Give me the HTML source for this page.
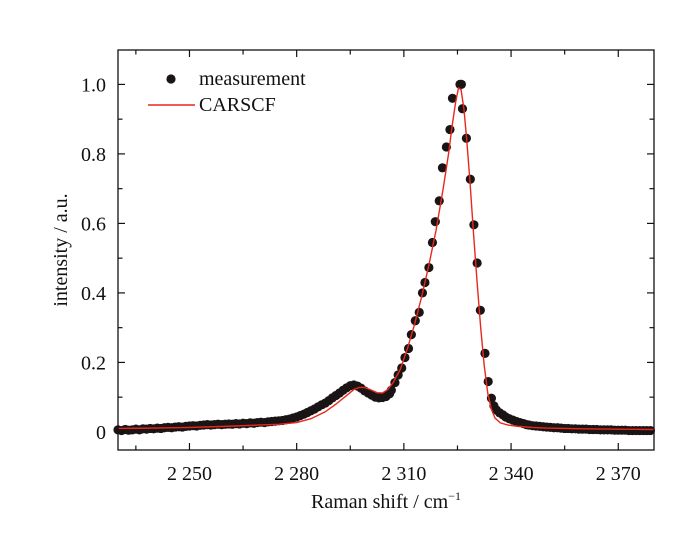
<!DOCTYPE html>
<html><head><meta charset="utf-8"><style>
body{margin:0;background:#fff;}
svg text{font-family:"Liberation Serif",serif;fill:#111;}
</style></head><body>
<svg id="chart" width="700" height="539">
<g id="marks"></g><g id="axes"></g>
</svg>
<script>
const measX=[2230,2231,2232,2233,2234,2235,2236,2237,2238,2239,2240,2241,2242,2243,2244,2245,2246,2247,2248,2249,2250,2251,2252,2253,2254,2255,2256,2257,2258,2259,2260,2261,2262,2263,2264,2265,2266,2267,2268,2269,2270,2271,2272,2273,2274,2275,2276,2277,2278,2279,2280,2281,2282,2283,2284,2285,2286,2287,2288,2289,2290,2291,2292,2293,2294,2295,2296,2297,2298,2299,2300,2301,2302,2303,2304,2305,2306,2306.5,2307.5,2308.4,2309.4,2310.3,2311.3,2312.1,2313.2,2314.3,2315.2,2315.9,2317,2318,2318.8,2319.9,2320.8,2321.9,2322.9,2323.6,2325.7,2326.1,2326.4,2327.5,2328.6,2329.6,2330.5,2331.4,2332.7,2333.6,2334.5,2335.2,2335.9,2336.8,2337.7,2338.5,2339.5,2340.5,2341.5,2342.5,2343.5,2344.3,2345,2346,2347,2348,2349,2350,2351,2352,2353,2354,2355,2356,2357,2358,2359,2360,2361,2362,2363,2364,2365,2366,2367,2368,2369,2370,2371,2372,2373,2374,2375,2376,2377,2378,2379,2380];
const measY=[0.006,0.004,0.007,0.005,0.006,0.008,0.006,0.009,0.008,0.01,0.009,0.011,0.01,0.012,0.013,0.012,0.014,0.015,0.014,0.016,0.017,0.018,0.017,0.019,0.02,0.021,0.02,0.021,0.022,0.021,0.022,0.023,0.022,0.024,0.023,0.025,0.024,0.026,0.025,0.027,0.028,0.027,0.029,0.03,0.031,0.032,0.033,0.035,0.037,0.04,0.043,0.047,0.051,0.056,0.061,0.066,0.072,0.078,0.083,0.09,0.098,0.105,0.112,0.12,0.127,0.133,0.135,0.132,0.126,0.118,0.112,0.106,0.1,0.098,0.099,0.102,0.11,0.12,0.142,0.164,0.184,0.214,0.24,0.28,0.32,0.344,0.4,0.43,0.473,0.545,0.605,0.665,0.76,0.82,0.87,0.96,1.0,1.0,0.93,0.845,0.727,0.596,0.486,0.35,0.226,0.145,0.097,0.075,0.063,0.055,0.049,0.043,0.038,0.034,0.03,0.027,0.024,0.021,0.02,0.018,0.017,0.016,0.015,0.014,0.013,0.012,0.012,0.011,0.01,0.01,0.009,0.009,0.008,0.008,0.008,0.007,0.007,0.007,0.006,0.006,0.006,0.006,0.005,0.005,0.005,0.005,0.004,0.004,0.004,0.004,0.004,0.004,0.004];
const fitX=[2230,2240,2250,2260,2270,2275,2280,2284,2288,2291,2294,2296,2297.5,2299,2301,2302.5,2304,2305.5,2307,2309,2311,2313,2315,2317,2319,2321,2322.5,2323.5,2324.5,2325.3,2326,2326.8,2327.6,2328.5,2329.5,2330.5,2331.5,2332.5,2333.5,2334.5,2335.5,2337,2339,2342,2346,2350,2360,2370,2380];
const fitY=[0.01,0.011,0.013,0.016,0.02,0.022,0.027,0.038,0.058,0.08,0.105,0.122,0.128,0.128,0.12,0.113,0.112,0.122,0.142,0.18,0.24,0.31,0.39,0.48,0.58,0.7,0.8,0.88,0.95,0.99,0.985,0.93,0.84,0.72,0.57,0.43,0.3,0.19,0.11,0.065,0.04,0.026,0.02,0.016,0.013,0.011,0.009,0.008,0.007];
const xTicks=[2250,2280,2310,2340,2370];
const xTickLabels=["2 250","2 280","2 310","2 340","2 370"];
const yTicks=[0,0.2,0.4,0.6,0.8,1.0];
const yTickLabels=["0","0.2","0.4","0.6","0.8","1.0"];

const L=118,R=654,T=50,B=450;
const X0=2230,X1=2380,Y0=-0.052,Y1=1.099;
const sx=v=>L+(v-X0)/(X1-X0)*(R-L);
const sy=v=>B-(v-Y0)/(Y1-Y0)*(B-T);
const NS="http://www.w3.org/2000/svg";
function mk(tag,attrs,parent,txt){const e=document.createElementNS(NS,tag);for(const k in attrs)e.setAttribute(k,attrs[k]);if(txt!==undefined)e.textContent=txt;parent.appendChild(e);return e;}
const marks=document.getElementById('marks'),axes=document.getElementById('axes');

const n=Math.min(measX.length,measY.length);
for(let i=0;i<n;i++){
  const c=mk('circle',{cx:sx(measX[i]),cy:sy(measY[i]),r:4.6,fill:'#1a1414'},marks);
  
  
}
const fl=mk('polyline',{points:fitX.map((x,i)=>sx(x)+','+sy(fitY[i])).join(' '),fill:'none',stroke:'#e8281e','stroke-width':1.4},marks);



const fr=mk('rect',{x:L,y:T,width:R-L,height:B-T,fill:'none',stroke:'#111','stroke-width':1.3},axes);



for(let v=2235;v<=2375;v+=15){
  const major=xTicks.includes(v);const len=major?7:4.5;const x=sx(v);
  mk('line',{x1:x,y1:B,x2:x,y2:B-len,stroke:'#111','stroke-width':1.2},axes);
  mk('line',{x1:x,y1:T,x2:x,y2:T+len,stroke:'#111','stroke-width':1.2},axes);
}
xTicks.forEach((v,i)=>{
  const t=mk('text',{x:sx(v),y:B+30,'text-anchor':'middle','font-size':20},axes,xTickLabels[i]);
  
  
});
for(let k=0;k<=10;k++){
  const v=k/10;const major=k%2===0;const len=major?7:4.5;const y=sy(v);
  mk('line',{x1:L,y1:y,x2:L+len,y2:y,stroke:'#111','stroke-width':1.2},axes);
  mk('line',{x1:R,y1:y,x2:R-len,y2:y,stroke:'#111','stroke-width':1.2},axes);
}
yTicks.forEach((v,i)=>{
  const t=mk('text',{x:L-12,y:sy(v)+7,'text-anchor':'end','font-size':20},axes,yTickLabels[i]);
  
  
});
const xt=mk('text',{x:386,y:508,'text-anchor':'middle','font-size':20},axes,'Raman shift / cm');


mk('tspan',{dy:-8,'font-size':12},xt,'−1');
const yt=mk('text',{x:0,y:0,'text-anchor':'middle','font-size':20,transform:'translate(67,250) rotate(-90)'},axes,'intensity / a.u.');



const lg=mk('g',{},axes);


mk('circle',{cx:171,cy:79,r:4.6,fill:'#1a1414'},lg);
mk('text',{x:199,y:85,'font-size':20},lg,'measurement');
mk('line',{x1:148,y1:105,x2:195,y2:105,stroke:'#e8281e','stroke-width':1.4},lg);
mk('text',{x:199,y:111,'font-size':20},lg,'CARSCF');
</script>
</body></html>
